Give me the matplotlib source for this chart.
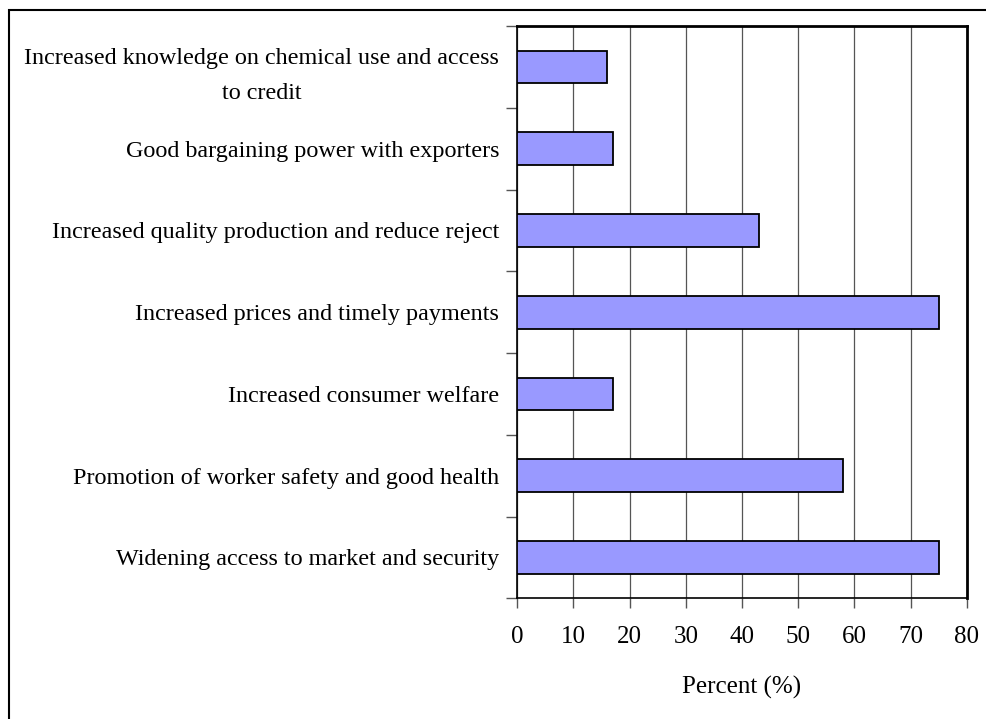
import matplotlib
matplotlib.use("Agg")
import matplotlib.pyplot as plt
from matplotlib.patches import Rectangle
import numpy as np

categories = [
    "Widening access to market and security",
    "Promotion of worker safety and good health",
    "Increased consumer welfare",
    "Increased prices and timely payments",
    "Increased quality production and reduce reject",
    "Good bargaining power with exporters",
    "Increased knowledge on chemical use and access\nto credit",
]
values = [75, 58, 17, 75, 43, 17, 16]
xticks = [0, 10, 20, 30, 40, 50, 60, 70, 80]
xlabel = "Percent (%)"

plt.rcParams['font.family'] = ['Liberation Serif', 'DejaVu Serif']
FS_Y = 17.4
FS_X = 18

fig = plt.figure(figsize=(9.86, 7.19), dpi=100)
W, H = 986, 719
ax = fig.add_axes([517.3 / W, 1 - 598.3 / H, (966.7 - 517.3) / W, (598.3 - 26) / H])

n = len(categories)
y = np.arange(n)
ax.barh(y, values, height=0.4, color='#9999FF', edgecolor='black', linewidth=1.3, zorder=3)

ax.set_xlim(0, 80)
ax.set_ylim(-0.5, n - 0.5)
ax.set_xticks(xticks)
ax.set_xticklabels([str(t) for t in xticks], fontsize=FS_X)
ax.xaxis.grid(True, color='#555555', linewidth=0.9, zorder=0)
ax.tick_params(axis='x', direction='out', length=7, width=1, color='#555555', pad=13)

ax.set_yticks(np.arange(-0.5, n, 1.0))
ax.set_yticklabels([])
ax.tick_params(axis='y', which='major', direction='out', length=8, width=1, color='#555555')
ax.set_yticks(y, minor=True)
ax.set_yticklabels(categories, minor=True, fontsize=FS_Y, multialignment='center', linespacing=1.85)
ax.tick_params(axis='y', which='minor', length=0, pad=13)

for s in ['top', 'right']:
    ax.spines[s].set_linewidth(2)
for s in ['left', 'bottom']:
    ax.spines[s].set_linewidth(1.2)

ax.set_xlabel(xlabel, fontsize=FS_X, labelpad=20)

fig.patches.append(Rectangle((9 / W, -0.1), 1.2, 1 - 10 / H + 0.1, transform=fig.transFigure,
                             fill=False, edgecolor='black', linewidth=1.5))

fig.savefig("out.png", dpi=100)
